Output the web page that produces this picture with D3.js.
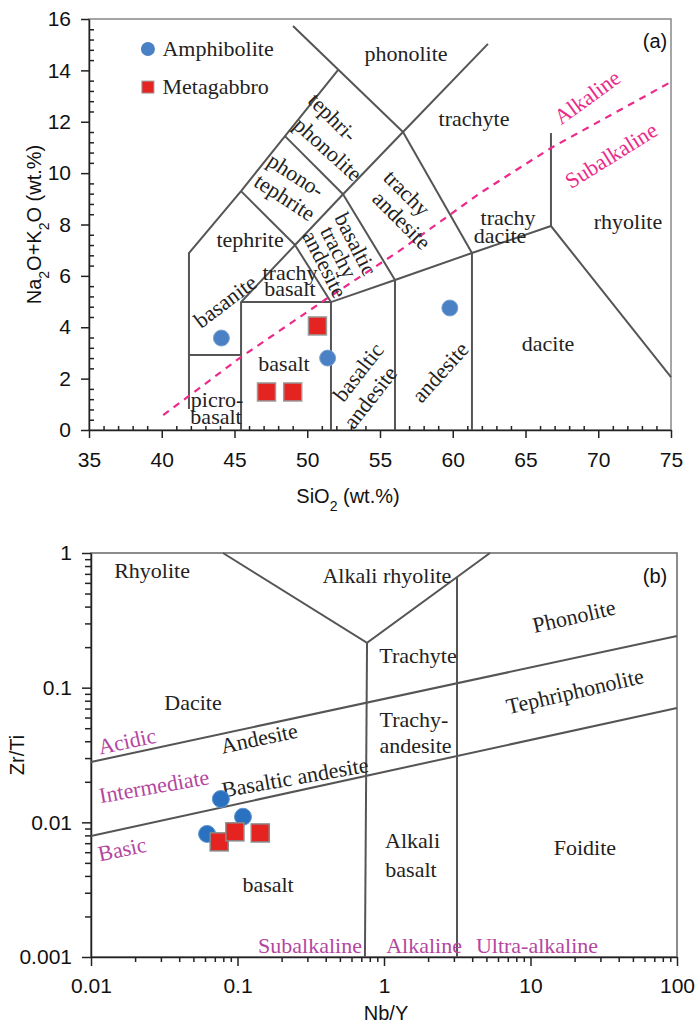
<!DOCTYPE html>
<html>
<head>
<meta charset="utf-8">
<script src="https://cdn.jsdelivr.net/npm/d3@7"></script>
<style>
  body { margin: 0; background: #fff; }
  .tick text { font-family: "Liberation Sans", Arial, sans-serif; font-size: 21px; fill: #111; }
  .lbl { font-family: "Liberation Serif", "Times New Roman", serif; font-size: 22px; fill: #222; }
  .ttl { font-family: "Liberation Sans", Arial, sans-serif; font-size: 20px; fill: #111; }
</style>
</head>
<body>
<div id="chart"></div>
<script>
// ---------------- data : panel (a) TAS ----------------
var tasXTicks = [35, 40, 45, 50, 55, 60, 65, 70, 75];
var tasYTicks = [0, 2, 4, 6, 8, 10, 12, 14, 16];

var amphSiO2 = [44.1, 51.4, 59.8];
var amphAlk = [3.58, 2.80, 4.75];
var gabbroSiO2 = [47.2, 49.0, 50.7];
var gabbroAlk = [1.48, 1.48, 4.05];

// field boundaries (SiO2, Na2O+K2O)
var tasLines = [
    [[41.87, 0.82], [41.87, 6.89], [45.45, 9.30], [48.47, 11.44], [52.11, 14.01]],
    [[49.02, 15.73], [56.58, 11.60]],
    [[56.58, 11.60], [62.42, 15.03]],
    [[56.58, 11.60], [61.32, 6.89]],
    [[56.58, 11.60], [52.46, 9.18]],
    [[48.47, 11.44], [52.46, 9.18]],
    [[45.45, 9.30], [49.16, 7.20]],
    [[49.16, 7.20], [52.46, 9.18]],
    [[45.45, 0], [45.45, 4.98], [49.16, 7.20], [51.63, 4.98], [51.63, 0]],
    [[41.87, 2.92], [45.45, 2.92]],
    [[45.45, 4.98], [51.63, 4.98], [56.03, 5.84], [61.32, 6.89], [66.75, 7.94], [75, 2.06]],
    [[52.46, 9.18], [56.03, 5.84], [56.03, 0]],
    [[61.32, 6.89], [61.32, 0]],
    [[66.75, 7.94], [66.75, 11.56]]
];
// alkaline / subalkaline divide
var alkLine = [[40.1, 0.58], [45.45, 2.84], [51.2, 5.06], [56.4, 7.0], [61.9, 9.23], [66.75, 10.98], [75, 13.55]];

// [text, SiO2, Na2O+K2O, angle]
var tasLabels = [
    ["phonolite", 56.79, 14.67, 0],
    ["trachyte", 61.46, 12.14, 0],
    ["trachy", 63.80, 8.29, 0],
    ["dacite", 63.25, 7.59, 0],
    ["rhyolite", 72.04, 8.14, 0],
    ["dacite", 66.55, 3.39, 0],
    ["andesite", 59.12, 2.26, -48],
    ["basaltic", 53.49, 2.26, -52],
    ["andesite", 54.31, 1.28, -52],
    ["basalt", 48.40, 2.61, 0],
    ["picro-", 43.80, 1.21, 0],
    ["basalt", 43.73, 0.54, 0],
    ["basanite", 44.35, 5.02, -37],
    ["trachy", 48.81, 6.15, 0],
    ["basalt", 48.81, 5.53, 0],
    ["tephrite", 46.07, 7.43, 0],
    ["phono-", 49.23, 9.93, 33],
    ["tephrite", 48.47, 9.07, 33],
    ["tephri-", 51.77, 12.18, 45],
    ["phonolite", 51.43, 10.94, 42],
    ["basaltic", 53.35, 7.24, 63],
    ["trachy", 52.18, 6.93, 63],
    ["andesite", 51.22, 6.46, 63],
    ["trachy", 56.86, 9.23, 45],
    ["andesite", 56.51, 8.17, 45]
];
var alkLabels = [
    ["Alkaline", 69.23, 12.96, -36],
    ["Subalkaline", 70.88, 10.70, -32]
];

// ---------------- data : panel (b) Zr/Ti vs Nb/Y ----------------
var wfXTicks = [0.01, 0.1, 1, 10, 100];
var wfYTicks = [0.001, 0.01, 0.1, 1];

var amphNbY = [0.062, 0.077, 0.109];
var amphZrTi = [0.0082, 0.0149, 0.0110];
var gabbroNbY = [0.075, 0.096, 0.143];
var gabbroZrTi = [0.00716, 0.0085, 0.00834];

var wfLines = [
    [[0.0796, 1], [0.766, 0.215], [5.29, 1]],
    [[0.766, 0.215], [0.741, 0.001]],
    [[3.15, 0.664], [3.15, 0.001]],
    [[0.01, 0.0281], [100, 0.242]],
    [[0.01, 0.00792], [100, 0.0707]]
];

// [text, Nb/Y, Zr/Ti, angle]
var wfLabels = [
    ["Rhyolite", 0.0261, 0.748, 0],
    ["Alkali rhyolite", 1.047, 0.687, 0],
    ["Phonolite", 19.8, 0.340, -13],
    ["Trachyte", 1.706, 0.175, 0],
    ["Tephriphonolite", 20.1, 0.0945, -13],
    ["Dacite", 0.0497, 0.0783, 0],
    ["Trachy-", 1.603, 0.0586, 0],
    ["andesite", 1.641, 0.0376, 0],
    ["Andesite", 0.1403, 0.0423, -12],
    ["Basaltic andesite", 0.247, 0.0217, -10],
    ["basalt", 0.1616, 0.00349, 0],
    ["Alkali", 1.566, 0.00740, 0],
    ["basalt", 1.528, 0.00451, 0],
    ["Foidite", 23.5, 0.00657, 0]
];
var wfSeriesLabels = [
    ["Acidic", 0.0176, 0.0402, -12],
    ["Intermediate", 0.0269, 0.0186, -10],
    ["Basic", 0.0163, 0.00635, -12],
    ["Subalkaline", 0.3126, 0.00123, 0],
    ["Alkaline", 1.876, 0.00123, 0],
    ["Ultra-alkaline", 11.07, 0.00123, 0]
];

var blue = "#4a80c4", blueB = "#2a72c0", red = "#e52421";
var pink = "#ec2a8a", purple = "#b4469f", lineCol = "#555";

var svg = d3.select("#chart")
    .append("svg")
    .attr("width", 698)
    .attr("height", 1025);

function styleAxis(g) {
    g.selectAll(".domain").attr("stroke", "#222").attr("stroke-width", 1.5);
    g.selectAll(".tick line").attr("stroke", "#222").attr("stroke-width", 1.5);
}

function addLabels(g, list, x, y, color) {
    list.forEach(function (d) {
        g.append("text")
            .attr("class", "lbl")
            .attr("text-anchor", "middle")
            .attr("dy", "0.35em")
            .attr("transform", "translate(" + x(d[1]) + "," + y(d[2]) + ") rotate(" + d[3] + ")")
            .style("fill", color)
            .text(d[0]);
    });
}

// ================= panel (a) =================
var xA = d3.scaleLinear().domain([35, 75]).range([89, 671]);
var yA = d3.scaleLinear().domain([0, 16]).range([430, 19]);
var gA = svg.append("g");

gA.append("rect")
    .attr("x", xA(35)).attr("y", yA(16))
    .attr("width", xA(75) - xA(35)).attr("height", yA(0) - yA(16))
    .attr("fill", "none").attr("stroke", "#888").attr("stroke-width", 1.5);

// minor ticks point inward
gA.append("g")
    .attr("transform", "translate(0," + yA(0) + ")")
    .call(d3.axisBottom(xA).tickValues(d3.range(36, 75).filter(function (v) { return v % 5; })).tickSize(-4).tickFormat(""))
    .call(function (g) { g.select(".domain").remove(); })
    .call(styleAxis);
gA.append("g")
    .attr("transform", "translate(" + xA(35) + ",0)")
    .call(d3.axisLeft(yA).tickValues(d3.range(0.4, 16, 0.4).filter(function (v) { return Math.abs(v / 2 - Math.round(v / 2)) > 0.01; })).tickSize(-5).tickFormat(""))
    .call(function (g) { g.select(".domain").remove(); })
    .call(styleAxis);

gA.append("g")
    .attr("transform", "translate(0," + yA(0) + ")")
    .call(d3.axisBottom(xA).tickValues(tasXTicks).tickSize(8).tickSizeOuter(0).tickPadding(14))
    .call(styleAxis);
gA.append("g")
    .attr("transform", "translate(" + xA(35) + ",0)")
    .call(d3.axisLeft(yA).tickValues(tasYTicks).tickSize(8).tickSizeOuter(0).tickPadding(10))
    .call(styleAxis);

var lineA = d3.line().x(function (d) { return xA(d[0]); }).y(function (d) { return yA(d[1]); });

gA.selectAll(".field")
    .data(tasLines)
    .enter()
    .append("path")
    .attr("d", lineA)
    .attr("fill", "none")
    .attr("stroke", lineCol)
    .attr("stroke-width", 2);

gA.append("path")
    .datum(alkLine)
    .attr("d", lineA)
    .attr("fill", "none")
    .attr("stroke", pink)
    .attr("stroke-width", 2.2)
    .attr("stroke-dasharray", "7,6");

addLabels(gA, tasLabels, xA, yA, "#222");
addLabels(gA, alkLabels, xA, yA, pink);

gA.append("text").attr("class", "ttl").attr("x", 655).attr("y", 48)
    .attr("text-anchor", "middle").text("(a)");

// legend
gA.append("circle").attr("cx", xA(39.05)).attr("cy", yA(14.83)).attr("r", 7).attr("fill", blue);
gA.append("text").attr("class", "lbl").attr("x", xA(40.05)).attr("y", yA(14.55)).text("Amphibolite");
gA.append("rect").attr("x", xA(39.05) - 6).attr("y", yA(13.35) - 6).attr("width", 12).attr("height", 12)
    .attr("fill", red).attr("stroke", "#999").attr("stroke-width", 1);
gA.append("text").attr("class", "lbl").attr("x", xA(40.05)).attr("y", yA(13.07)).text("Metagabbro");

// samples
gA.selectAll(".amph")
    .data(d3.range(amphSiO2.length))
    .enter()
    .append("circle")
    .attr("cx", function (i) { return xA(amphSiO2[i]); })
    .attr("cy", function (i) { return yA(amphAlk[i]); })
    .attr("r", 8)
    .attr("fill", blue)
    .attr("stroke", "#7ea3d2")
    .attr("stroke-width", 1);
gA.selectAll(".gab")
    .data(d3.range(gabbroSiO2.length))
    .enter()
    .append("rect")
    .attr("x", function (i) { return xA(gabbroSiO2[i]) - 9; })
    .attr("y", function (i) { return yA(gabbroAlk[i]) - 9; })
    .attr("width", 18)
    .attr("height", 18)
    .attr("fill", red)
    .attr("stroke", "#999")
    .attr("stroke-width", 1.5);

// axis titles
var tA = gA.append("text").attr("class", "ttl").attr("x", 348).attr("y", 503).attr("text-anchor", "middle");
tA.append("tspan").text("SiO");
tA.append("tspan").attr("baseline-shift", "sub").style("font-size", "14px").text("2");
tA.append("tspan").text(" (wt.%)");

var tB = gA.append("text").attr("class", "ttl")
    .attr("transform", "translate(41," + ((yA(0) + yA(16)) / 2) + ") rotate(-90)")
    .attr("text-anchor", "middle");
tB.append("tspan").text("Na");
tB.append("tspan").attr("baseline-shift", "sub").style("font-size", "14px").text("2");
tB.append("tspan").text("O+K");
tB.append("tspan").attr("baseline-shift", "sub").style("font-size", "14px").text("2");
tB.append("tspan").text("O (wt.%)");

// ================= panel (b) =================
var xB = d3.scaleLog().domain([0.01, 100]).range([91, 677]);
var yB = d3.scaleLog().domain([0.001, 1]).range([957, 553]);
var gB = svg.append("g");

gB.append("rect")
    .attr("x", xB(0.01)).attr("y", yB(1))
    .attr("width", xB(100) - xB(0.01)).attr("height", yB(0.001) - yB(1))
    .attr("fill", "none").attr("stroke", "#666").attr("stroke-width", 1.5);

function minorLog(lo, hi) {
    var out = [];
    for (var p = lo; p < hi; p++) {
        for (var m = 2; m <= 9; m++) out.push(m * Math.pow(10, p));
    }
    return out;
}

gB.append("g")
    .attr("transform", "translate(0," + yB(0.001) + ")")
    .call(d3.axisBottom(xB).tickValues(minorLog(-2, 2)).tickSize(5).tickFormat(""))
    .call(function (g) { g.select(".domain").remove(); })
    .call(styleAxis);
gB.append("g")
    .attr("transform", "translate(" + xB(0.01) + ",0)")
    .call(d3.axisLeft(yB).tickValues(minorLog(-3, 0)).tickSize(6).tickFormat(""))
    .call(function (g) { g.select(".domain").remove(); })
    .call(styleAxis);
gB.append("g")
    .attr("transform", "translate(0," + yB(0.001) + ")")
    .call(d3.axisBottom(xB).tickValues(wfXTicks).tickFormat(function (d) { return String(d); }).tickSize(9).tickSizeOuter(0).tickPadding(12))
    .call(styleAxis);
gB.append("g")
    .attr("transform", "translate(" + xB(0.01) + ",0)")
    .call(d3.axisLeft(yB).tickValues(wfYTicks).tickFormat(function (d) { return String(d); }).tickSize(9).tickSizeOuter(0).tickPadding(10))
    .call(styleAxis);

var lineB = d3.line().x(function (d) { return xB(d[0]); }).y(function (d) { return yB(d[1]); });

gB.selectAll(".field")
    .data(wfLines)
    .enter()
    .append("path")
    .attr("d", lineB)
    .attr("fill", "none")
    .attr("stroke", lineCol)
    .attr("stroke-width", 2);

addLabels(gB, wfLabels, xB, yB, "#222");
addLabels(gB, wfSeriesLabels, xB, yB, purple);

gB.append("text").attr("class", "ttl").attr("x", 655).attr("y", 583)
    .attr("text-anchor", "middle").text("(b)");

gB.selectAll(".amph")
    .data(d3.range(amphNbY.length))
    .enter()
    .append("circle")
    .attr("cx", function (i) { return xB(amphNbY[i]); })
    .attr("cy", function (i) { return yB(amphZrTi[i]); })
    .attr("r", 8.5)
    .attr("fill", blueB)
    .attr("stroke", "#5f95cf")
    .attr("stroke-width", 1);
gB.selectAll(".gab")
    .data(d3.range(gabbroNbY.length))
    .enter()
    .append("rect")
    .attr("x", function (i) { return xB(gabbroNbY[i]) - 9; })
    .attr("y", function (i) { return yB(gabbroZrTi[i]) - 9; })
    .attr("width", 18)
    .attr("height", 18)
    .attr("fill", red)
    .attr("stroke", "#888")
    .attr("stroke-width", 1.5);

gB.append("text").attr("class", "ttl").attr("x", 386).attr("y", 1020)
    .attr("text-anchor", "middle").text("Nb/Y");
gB.append("text").attr("class", "ttl")
    .attr("transform", "translate(24," + 755 + ") rotate(-90)")
    .attr("text-anchor", "middle").text("Zr/Ti");
</script>
</body>
</html>
